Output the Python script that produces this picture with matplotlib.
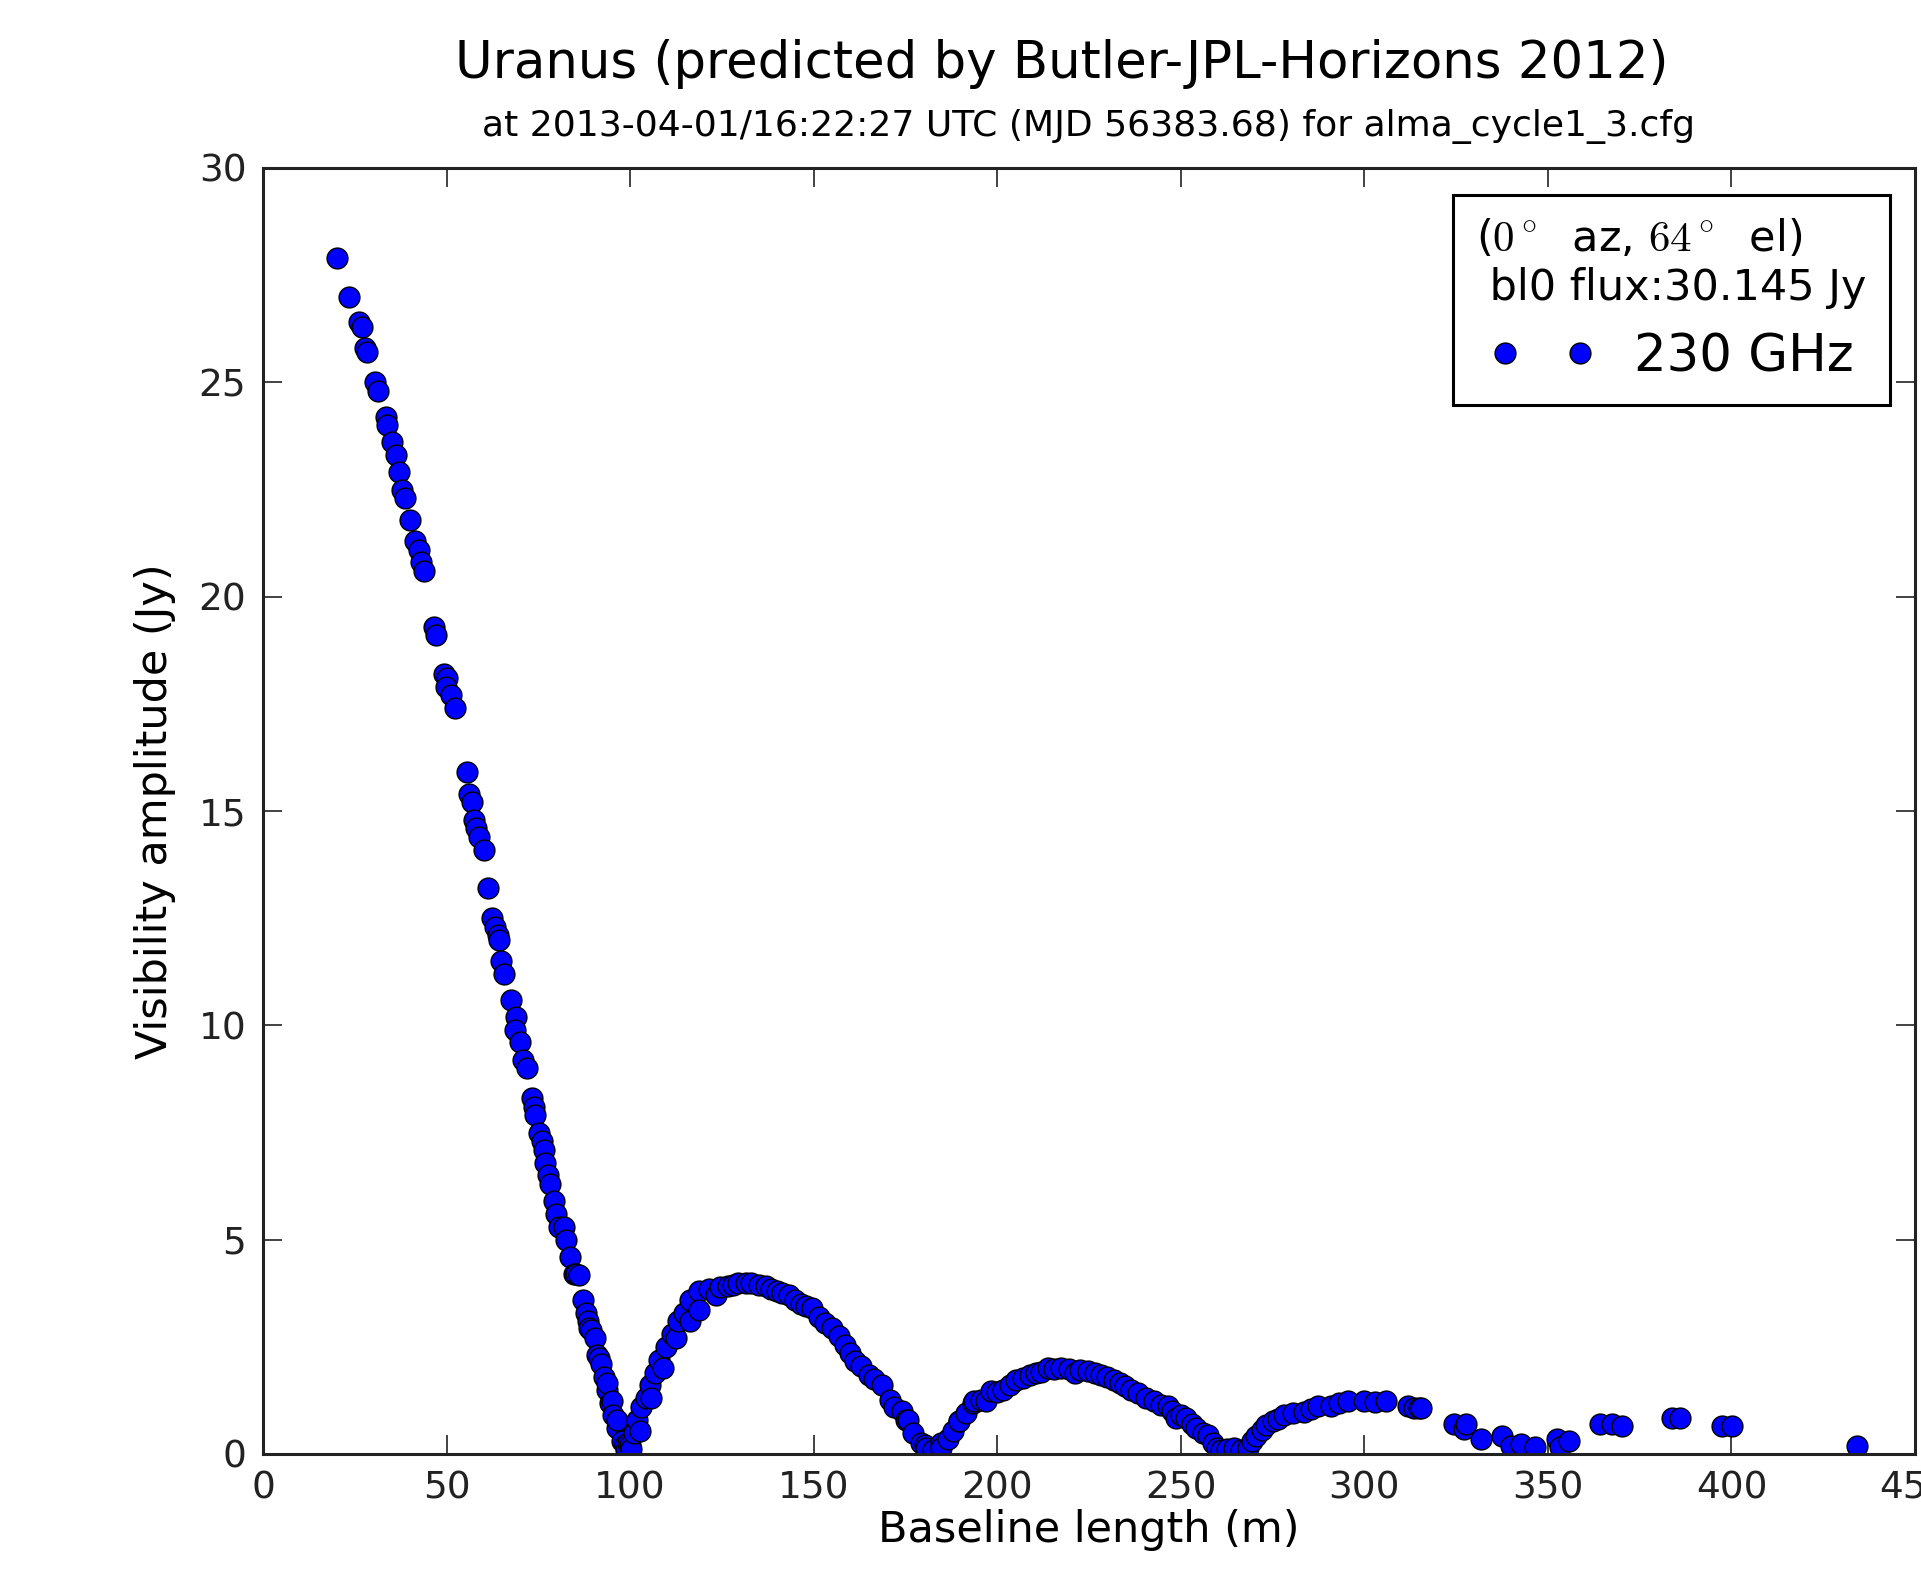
#!/usr/bin/env python3
"""Uranus visibility amplitude vs baseline length (ALMA cycle 1 config)."""

import matplotlib
matplotlib.use("Agg")
import matplotlib.pyplot as plt

plt.rcParams["font.family"] = "DejaVu Sans"
plt.rcParams["mathtext.fontset"] = "cm"

# baseline length (m) and visibility amplitude (Jy)
baseline = [
    20.1, 23.4, 26.1, 27.1, 27.8, 28.4, 30.4, 31.4, 33.4, 33.8, 35.1, 36.1, 37.1, 37.8,
    38.8, 40.1, 41.5, 42.5, 43.1, 43.8, 46.5, 47.2, 49.2, 50.2, 49.8, 51.2, 52.2, 55.5,
    56.2, 56.9, 57.5, 57.9, 58.9, 60.2, 61.2, 62.5, 63.2, 63.9, 64.2, 64.9, 65.6, 67.6,
    68.9, 68.6, 69.9, 70.9, 71.9, 73.2, 73.9, 74.2, 75.3, 75.9, 76.6, 76.9, 77.6, 78.3,
    79.3, 79.9, 80.6, 81.9, 82.6, 83.6, 84.6, 85.3, 86.0, 87.3, 88.0, 88.6, 88.7, 89.3,
    90.3, 91.0, 91.4, 92.0, 93.0, 93.6, 93.7, 94.6, 95.0, 95.3, 96.3, 96.4, 97.7, 98.7,
    99.0, 99.5, 100.0, 100.3, 101.0, 102.0, 102.7, 103.0, 104.3, 105.4, 105.8, 106.7,
    108.0, 109.0, 109.7, 111.4, 112.6, 113.0, 114.7, 116.2, 116.4, 118.7, 118.9, 121.4,
    123.4, 124.5, 126.6, 128.0, 129.5, 131.5, 133.0, 135.0, 136.9, 138.5, 140.0, 141.5,
    143.2, 145.0, 146.5, 148.0, 149.5, 151.5, 153.0, 155.0, 157.0, 158.6, 160.0, 161.2,
    163.0, 165.0, 166.5, 168.5, 170.7, 172.0, 174.0, 175.2, 175.7, 177.0, 179.3, 180.2,
    180.7, 182.5, 184.7, 184.8, 186.5, 187.9, 189.6, 189.7, 191.5, 193.4, 193.6, 195.5,
    197.0, 198.4, 200.0, 201.5, 203.5, 205.2, 207.0, 209.0, 210.6, 212.0, 213.8, 215.5,
    217.4, 219.5, 221.1, 222.5, 224.7, 226.5, 228.3, 230.0, 231.9, 233.5, 234.7, 236.5,
    238.3, 240.5, 242.8, 244.5, 246.5, 247.5, 248.7, 250.0, 251.5, 253.0, 254.2, 256.0,
    257.3, 258.7, 260.0, 261.0, 262.5, 264.6, 266.5, 268.2, 269.5, 270.5, 272.0, 273.2,
    275.0, 276.5, 278.2, 280.5, 283.7, 285.5, 287.3, 291.0, 293.0, 295.5, 300.0, 303.0,
    305.9, 311.8, 313.5, 315.0, 315.3, 324.4, 327.1, 327.6, 331.7, 337.6, 339.9, 342.6,
    346.6, 352.5, 353.4, 355.7, 364.3, 367.5, 370.2, 383.8, 386.1, 397.4, 400.2, 434.2,
]
amplitude = [
    27.9, 27.0, 26.4, 26.3, 25.8, 25.7, 25.0, 24.8, 24.2, 24.0, 23.6, 23.3, 22.9, 22.5,
    22.3, 21.8, 21.3, 21.1, 20.8, 20.6, 19.3, 19.1, 18.2, 18.1, 17.9, 17.7, 17.4, 15.9,
    15.4, 15.2, 14.8, 14.6, 14.4, 14.1, 13.2, 12.5, 12.3, 12.1, 12.0, 11.5, 11.2, 10.6,
    10.2, 9.9, 9.6, 9.2, 9.0, 8.3, 8.1, 7.9, 7.5, 7.3, 7.1, 6.8, 6.5, 6.3,
    5.9, 5.6, 5.3, 5.3, 5.0, 4.6, 4.2, 4.2, 4.18, 3.6, 3.3, 3.1, 2.94, 2.9,
    2.7, 2.3, 2.24, 2.1, 1.8, 1.5, 1.66, 1.2, 1.23, 0.9, 0.6, 0.80, 0.3, 0.2,
    0.1, 0.26, 0.2, 0.12, 0.5, 0.8, 0.53, 1.1, 1.3, 1.6, 1.31, 1.9,
    2.2, 2.0, 2.5, 2.8, 2.7, 3.1, 3.3, 3.1, 3.6, 3.8, 3.36, 3.85,
    3.71, 3.9, 3.91, 3.95, 3.98, 3.99, 3.98, 3.95, 3.91, 3.85, 3.8, 3.75,
    3.71, 3.6, 3.5, 3.45, 3.4, 3.2, 3.05, 2.94, 2.75, 2.55, 2.35, 2.16,
    2.05, 1.85, 1.75, 1.62, 1.27, 1.1, 1.0, 0.8, 0.8, 0.5, 0.26, 0.22,
    0.14, 0.1, 0.26, 0.14, 0.35, 0.53, 0.76, 0.76, 0.95, 1.19, 1.23, 1.25,
    1.23, 1.46, 1.45, 1.5, 1.6, 1.73, 1.77, 1.85, 1.89, 1.92, 2.0, 1.98,
    2.0, 1.98, 1.89, 1.95, 1.93, 1.9, 1.85, 1.8, 1.73, 1.65, 1.58, 1.5,
    1.42, 1.3, 1.23, 1.15, 1.11, 1.0, 0.84, 0.9, 0.84, 0.7, 0.61, 0.5,
    0.45, 0.26, 0.15, 0.1, 0.12, 0.14, 0.1, 0.14, 0.3, 0.41, 0.55, 0.68,
    0.76, 0.82, 0.92, 0.95, 0.99, 1.05, 1.11, 1.11, 1.18, 1.23, 1.23, 1.22,
    1.23, 1.11, 1.07, 1.07, 1.07, 0.7, 0.58, 0.7, 0.35, 0.43, 0.19, 0.23,
    0.16, 0.35, 0.16, 0.31, 0.7, 0.7, 0.66, 0.83, 0.83, 0.66, 0.66, 0.18,
]

x_ticks = [0, 50, 100, 150, 200, 250, 300, 350, 400, 450]
y_ticks = [0, 5, 10, 15, 20, 25, 30]

W, H = 1921, 1576
fig = plt.figure(figsize=(W / 100, H / 100), dpi=100)
ax = fig.add_axes([263 / W, 1 - 1454 / H, (1915 - 263) / W, (1454 - 168) / H])

ax.plot(baseline, amplitude, "o", ms=15, mfc="#0000ff", mec="black", mew=1.0,
        label="230 GHz")

ax.set_xlim(0, 450)
ax.set_ylim(0, 30)
ax.set_xticks(x_ticks)
ax.set_yticks(y_ticks)
ax.tick_params(direction="in", length=14, width=1.2, labelsize=27, pad=12,
               top=True, right=True, colors="#222222")
for sp in ax.spines.values():
    sp.set_linewidth(2.2)
    sp.set_color("#222222")

ax.set_xlabel("Baseline length (m)", fontsize=31, labelpad=2)
ax.set_ylabel("Visibility amplitude (Jy)", fontsize=31, labelpad=16)

fig.text(1062 / W, 1 - 64 / H, "Uranus (predicted by Butler-JPL-Horizons 2012)",
         ha="center", va="center", fontsize=37)
fig.text(1089 / W, 1 - 127 / H,
         "at 2013-04-01/16:22:27 UTC (MJD 56383.68) for alma_cycle1_3.cfg",
         ha="center", va="center", fontsize=26)

leg = ax.legend(loc="upper right", bbox_to_anchor=(1890 / W, 1 - 195 / H),
                bbox_transform=fig.transFigure, borderaxespad=0, numpoints=2,
                handlelength=2.05, handletextpad=0.75, fontsize=37, title_fontsize=31,
                title="($0^\\circ$  az, $64^\\circ$  el)\n bl0 flux:30.145 Jy",
                fancybox=False, framealpha=1, edgecolor="black",
                borderpad=0.45, labelspacing=0.3)
leg.get_frame().set_linewidth(2.2)
leg.get_title().set_multialignment("left")
leg._legend_box.align = "center"
leg._legend_box.sep = 17

fig.savefig("out.png", dpi=100, facecolor="white")
